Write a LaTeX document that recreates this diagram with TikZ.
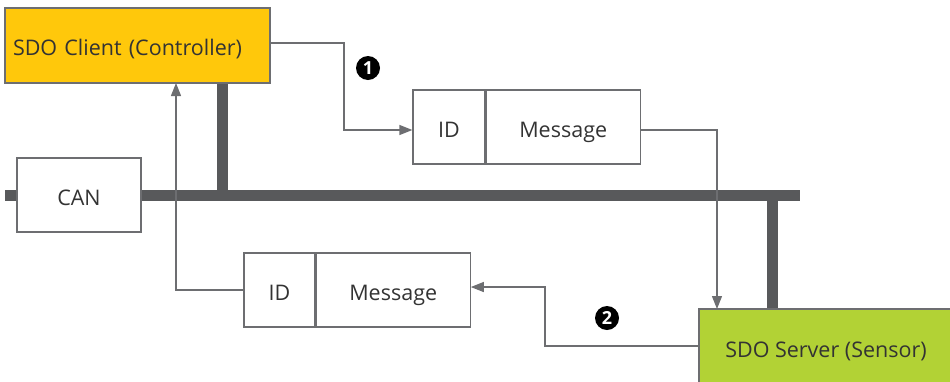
\documentclass[tikz,border=0pt]{standalone}
\usepackage{fontspec}
\setmainfont{Open Sans}
\usepackage{tikz}
\usetikzlibrary{arrows.meta,calc}

\definecolor{busgray}{HTML}{58595B}
\definecolor{linegray}{HTML}{6D6E71}
\definecolor{clientyellow}{HTML}{FFC80B}
\definecolor{servergreen}{HTML}{B2D235}
\definecolor{textgray}{HTML}{333333}

\begin{document}
\begin{tikzpicture}[x=1pt,y=-1pt,
    font=\fontsize{21.5}{24}\selectfont,
    box/.style={draw=linegray, line width=1.2pt, text=textgray,
      text height=20pt, text depth=0pt},
    flow/.style={draw=linegray, line width=1.2pt, -{Triangle[length=13pt,width=10pt]}},
    bus/.style={busgray, line width=10.5pt},
    badge/.style={circle, fill=black, text=white, inner sep=0pt, minimum size=24pt,
      font=\fontsize{18}{18}\selectfont\bfseries}]
    \path[use as bounding box] (0,0) rectangle (950,381);
    % Bus line and stubs
    \draw[bus] (5,195.5) -- (800,195.5);
    \draw[bus] (222.5,83) -- (222.5,195);
    \draw[bus] (772.5,196) -- (772.5,309);
    % CAN box
    \node[box, fill=white, minimum width=124pt, minimum height=74pt] (can) at (79,195) {CAN};
    % Client and server
    \node[box, fill=clientyellow, minimum width=265pt, minimum height=75pt,
      text width=249pt, align=left] (client) at (137.5,45.5) {SDO Client (Controller)};
    \node[box, fill=servergreen, minimum width=256pt, minimum height=76pt]
      (server) at (827,347) {\hspace*{-2pt}SDO Server (Sensor)};
    % Request frame
    \node[box, minimum width=72pt, minimum height=74pt] (id1) at (449,127) {ID};
    \node[box, minimum width=154pt, minimum height=74pt, anchor=west] (msg1) at (id1.east) {Message};
    % Response frame
    \node[box, minimum width=71pt, minimum height=74pt] (id2) at (279.5,290) {ID};
    \node[box, minimum width=154pt, minimum height=74pt, anchor=west] (msg2) at (id2.east) {Message};
    % Flow arrows
    \draw[flow] (client.east |- 0,43) -| (344,130) -- (id1.west |- 0,130);
    \draw[flow] (msg1.east |- 0,130) -| (717,309);
    \draw[flow] (server.west |- 0,346) -| (545,287) -- (msg2.east |- 0,287);
    \draw[flow] (id2.west) -| (176,83);
    % Step numbers
    \node[badge] (one) at (368,68) {1};
    \node[badge] (two) at (607,318) {2};
\end{tikzpicture}
\end{document}
